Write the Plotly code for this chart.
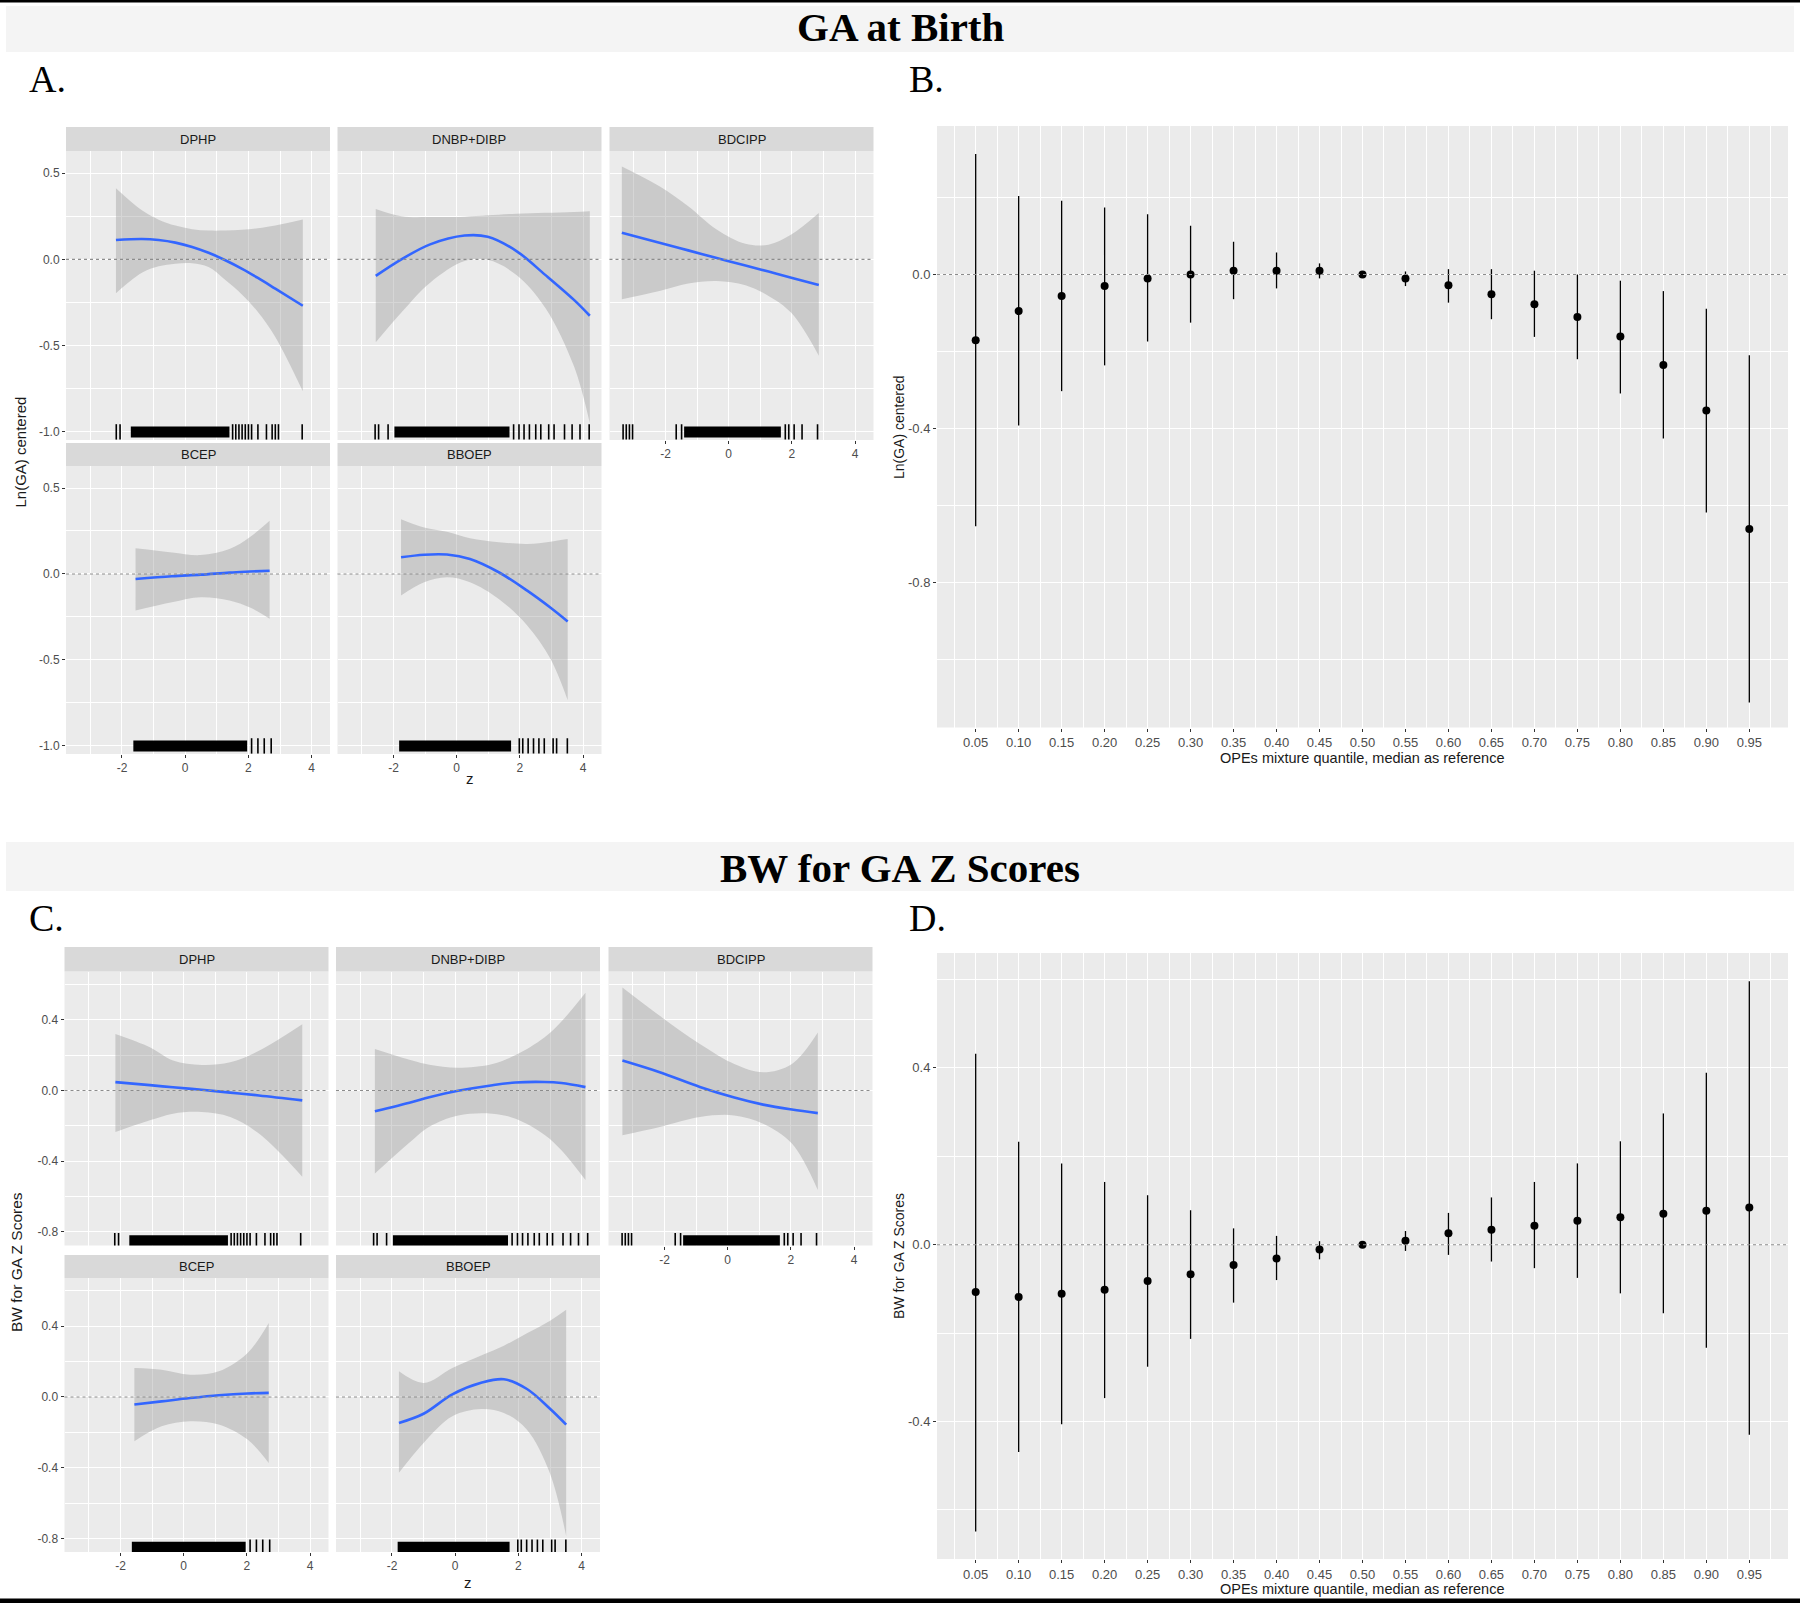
import plotly.graph_objects as go

W, H = 1800, 1607
SANS = "Liberation Sans, Arial, sans-serif"
SERIF = "Liberation Serif, Times New Roman, serif"

# ------------------------------------------------------------------ data
FACETS = ["DPHP", "DNBP+DIBP", "BDCIPP", "BCEP", "BBOEP"]

# Panel A : Ln(GA) centered vs z (smooth fit with 95% band)
A_DPHP_z   = [-2.19, -1.37, -0.84, -0.31, 0.22, 0.74, 1.27, 1.80, 2.30, 2.85, 3.72]
A_DPHP_fit = [0.112, 0.118, 0.112, 0.097, 0.072, 0.038, -0.005, -0.055, -0.108, -0.170, -0.269]
A_DPHP_lo  = [-0.196, -0.078, -0.040, -0.025, -0.022, -0.045, -0.120, -0.205, -0.305, -0.450, -0.765]
A_DPHP_hi  = [0.412, 0.284, 0.230, 0.196, 0.175, 0.167, 0.167, 0.171, 0.180, 0.196, 0.231]

A_DNBP_z   = [-2.56, -1.75, -0.84, 0.25, 0.98, 1.89, 2.80, 3.71, 4.21]
A_DNBP_fit = [-0.096, 0.000, 0.087, 0.138, 0.131, 0.048, -0.090, -0.235, -0.327]
A_DNBP_lo  = [-0.481, -0.308, -0.135, -0.010, -0.003, -0.090, -0.280, -0.620, -0.950]
A_DNBP_hi  = [0.292, 0.250, 0.245, 0.247, 0.255, 0.265, 0.270, 0.275, 0.279]

A_BDCIPP_z   = [-3.38, -2.19, -1.28, -0.38, 0.53, 1.26, 1.98, 2.85]
A_BDCIPP_fit = [0.154, 0.096, 0.052, 0.008, -0.036, -0.071, -0.106, -0.148]
A_BDCIPP_lo  = [-0.231, -0.183, -0.140, -0.125, -0.150, -0.212, -0.310, -0.558]
A_BDCIPP_hi  = [0.538, 0.423, 0.308, 0.173, 0.090, 0.085, 0.144, 0.269]

A_BCEP_z   = [-1.57, -0.42, 0.49, 1.40, 2.05, 2.67]
A_BCEP_fit = [-0.029, -0.013, -0.004, 0.008, 0.014, 0.019]
A_BCEP_lo  = [-0.212, -0.164, -0.135, -0.154, -0.195, -0.260]
A_BCEP_hi  = [0.149, 0.125, 0.110, 0.145, 0.215, 0.309]

A_BBOEP_z   = [-1.76, -1.03, -0.31, 0.42, 1.33, 2.23, 2.96, 3.51]
A_BBOEP_fit = [0.097, 0.112, 0.113, 0.087, 0.010, -0.097, -0.195, -0.276]
A_BBOEP_lo  = [-0.125, -0.048, -0.019, -0.048, -0.145, -0.299, -0.492, -0.734]
A_BBOEP_hi  = [0.319, 0.270, 0.245, 0.208, 0.185, 0.175, 0.188, 0.203]

# Panel C : BW for GA Z Scores vs z
C_DPHP_z   = [-2.16, -1.07, -0.34, 0.57, 1.47, 2.38, 3.75]
C_DPHP_fit = [0.047, 0.030, 0.018, 0.004, -0.012, -0.028, -0.056]
C_DPHP_lo  = [-0.235, -0.169, -0.131, -0.122, -0.150, -0.244, -0.488]
C_DPHP_hi  = [0.319, 0.244, 0.169, 0.144, 0.159, 0.225, 0.375]

C_DNBP_z   = [-2.54, -1.36, -0.82, 0.09, 1.18, 1.91, 2.82, 3.36, 4.12]
C_DNBP_fit = [-0.118, -0.065, -0.038, -0.002, 0.030, 0.045, 0.048, 0.042, 0.019]
C_DNBP_lo  = [-0.469, -0.281, -0.205, -0.141, -0.131, -0.160, -0.250, -0.338, -0.507]
C_DNBP_hi  = [0.235, 0.169, 0.145, 0.128, 0.150, 0.200, 0.300, 0.390, 0.553]

C_BDCIPP_z   = [-3.33, -2.15, -0.88, 0.21, 1.12, 2.03, 2.85]
C_BDCIPP_fit = [0.169, 0.103, 0.020, -0.040, -0.080, -0.108, -0.128]
C_BDCIPP_lo  = [-0.253, -0.206, -0.150, -0.141, -0.188, -0.300, -0.563]
C_BDCIPP_hi  = [0.582, 0.422, 0.263, 0.150, 0.103, 0.150, 0.328]

C_BCEP_z   = [-1.56, -0.70, 0.20, 1.11, 2.02, 2.69]
C_BCEP_fit = [-0.043, -0.025, -0.006, 0.010, 0.020, 0.023]
C_BCEP_lo  = [-0.250, -0.166, -0.137, -0.156, -0.241, -0.373]
C_BCEP_hi  = [0.164, 0.154, 0.126, 0.145, 0.249, 0.418]

C_BBOEP_z   = [-1.78, -1.00, -0.09, 0.82, 1.54, 2.27, 2.99, 3.51]
C_BBOEP_fit = [-0.147, -0.095, 0.015, 0.080, 0.100, 0.045, -0.065, -0.156]
C_BBOEP_lo  = [-0.429, -0.260, -0.109, -0.068, -0.090, -0.185, -0.429, -0.787]
C_BBOEP_hi  = [0.145, 0.079, 0.164, 0.235, 0.290, 0.360, 0.430, 0.493]

# Rug of exposure z-scores (solid stretches and single ticks)
RUG_DPHP_dense   = [(-1.72, 1.40)]
RUG_DPHP_ticks   = [-2.18, -2.06, 1.50, 1.60, 1.70, 1.80, 1.90, 2.00, 2.10, 2.30, 2.57, 2.75, 2.85, 2.95, 3.70]
RUG_DNBP_dense   = [(-1.97, 1.67)]
RUG_DNBP_ticks   = [-2.58, -2.47, -2.17, 1.80, 1.97, 2.13, 2.30, 2.50, 2.66, 2.91, 3.08, 3.41, 3.65, 3.90, 4.19]
RUG_BDCIPP_dense = [(-1.41, 1.65)]
RUG_BDCIPP_ticks = [-3.34, -3.24, -3.14, -3.04, -1.66, -1.49, 1.79, 1.90, 2.07, 2.32, 2.81]
RUG_BCEP_dense   = [(-1.64, 1.96)]
RUG_BCEP_ticks   = [2.10, 2.30, 2.50, 2.72]
RUG_BBOEP_dense  = [(-1.82, 1.72)]
RUG_BBOEP_ticks  = [1.98, 2.09, 2.26, 2.43, 2.60, 2.77, 3.05, 3.16, 3.50]
RUG_Y_A = -1.0
RUG_Y_C = -0.85

# Panels B and D : mixture quantile effects
QUANTILES    = [0.05, 0.10, 0.15, 0.20, 0.25, 0.30, 0.35, 0.40, 0.45, 0.50,
                0.55, 0.60, 0.65, 0.70, 0.75, 0.80, 0.85, 0.90, 0.95]
QUANT_LABELS = ["0.05", "0.10", "0.15", "0.20", "0.25", "0.30", "0.35", "0.40", "0.45", "0.50",
                "0.55", "0.60", "0.65", "0.70", "0.75", "0.80", "0.85", "0.90", "0.95"]
B_est = [-0.171, -0.095, -0.056, -0.030, -0.010, 0.000, 0.010, 0.010, 0.010, 0.000,
         -0.010, -0.028, -0.051, -0.077, -0.110, -0.161, -0.235, -0.353, -0.661]
B_lo  = [-0.654, -0.392, -0.303, -0.236, -0.174, -0.125, -0.064, -0.036, -0.010, 0.000,
         -0.030, -0.073, -0.116, -0.162, -0.220, -0.309, -0.426, -0.618, -1.112]
B_hi  = [0.313, 0.204, 0.192, 0.174, 0.157, 0.127, 0.085, 0.057, 0.029, 0.000,
         0.008, 0.014, 0.014, 0.010, 0.000, -0.016, -0.043, -0.089, -0.210]
D_est = [-0.107, -0.118, -0.111, -0.102, -0.082, -0.067, -0.046, -0.031, -0.011, 0.000,
         0.009, 0.026, 0.034, 0.043, 0.054, 0.062, 0.070, 0.077, 0.084]
D_lo  = [-0.649, -0.469, -0.406, -0.347, -0.276, -0.213, -0.131, -0.080, -0.033, 0.000,
         -0.014, -0.023, -0.038, -0.053, -0.075, -0.110, -0.155, -0.233, -0.430]
D_hi  = [0.432, 0.233, 0.184, 0.142, 0.112, 0.078, 0.037, 0.020, 0.008, 0.000,
         0.031, 0.072, 0.107, 0.142, 0.184, 0.234, 0.297, 0.389, 0.596]

# ------------------------------------------------------------------ figure
fig = go.Figure()
axes_layout = {}
shapes = []
annotations = []
n_axes = [0]


def new_axes(xpx, ypx, xcfg, ycfg):
    n_axes[0] += 1
    s = "" if n_axes[0] == 1 else str(n_axes[0])
    axes_layout["xaxis" + s] = dict(domain=[xpx[0] / W, xpx[1] / W], anchor="y" + s, **xcfg)
    axes_layout["yaxis" + s] = dict(domain=[1 - ypx[1] / H, 1 - ypx[0] / H], anchor="x" + s, **ycfg)
    return "x" + s, "y" + s


def axis_style(rng, tickvals, ticktext, minorvals, show_labels, tick_size):
    d = dict(range=rng, tickmode="array", tickvals=tickvals, ticktext=ticktext,
             showgrid=True, gridcolor="white", gridwidth=1.3, zeroline=False, showline=False,
             minor=dict(tickmode="array", tickvals=minorvals, showgrid=True,
                        gridcolor="white", gridwidth=0.6, ticks=""),
             fixedrange=True, tickfont=dict(family=SANS, size=tick_size, color="#4D4D4D"))
    if show_labels:
        d.update(ticks="outside", ticklen=3, tickwidth=1, tickcolor="#333333", showticklabels=True)
    else:
        d.update(ticks="", showticklabels=False)
    return d


def paper_rect(x0, y0, x1, y1, color):
    shapes.append(dict(type="rect", xref="paper", yref="paper", x0=x0 / W, x1=x1 / W,
                       y0=1 - y1 / H, y1=1 - y0 / H, fillcolor=color, line=dict(width=0),
                       layer="below"))


def text(t, x, y, size, family=SANS, color="#1A1A1A", angle=0, xanchor="center"):
    annotations.append(dict(text=t, x=x / W, y=1 - y / H, xref="paper", yref="paper",
                            showarrow=False, font=dict(family=family, size=size, color=color),
                            textangle=angle, xanchor=xanchor, yanchor="middle"))


def zero_line(xa, ya):
    shapes.append(dict(type="line", xref=xa + " domain", x0=0, x1=1, yref=ya, y0=0, y1=0,
                       line=dict(color="#8C8C8C", width=1.1, dash="dot"), layer="above"))


XR = [-3.77, 4.58]


def facet_block(data, cols, rows, yrng, yvals, ytext, yminor, rug_y):
    positions = [(0, 0), (0, 1), (0, 2), (1, 0), (1, 1)]
    with_x_labels = {(1, 0), (1, 1), (0, 2)}
    for (name, z, fit, lo, hi, dense, ticks), (r, c) in zip(data, positions):
        xpx = cols[c]
        strip, panel = rows[r]
        xa, ya = new_axes(
            xpx, panel,
            axis_style(XR, [-2, 0, 2, 4], ["-2", "0", "2", "4"], [-3, -1, 1, 3],
                       (r, c) in with_x_labels, 12),
            axis_style(yrng, yvals, ytext, yminor, c == 0, 12))
        paper_rect(xpx[0], strip[0], xpx[1], strip[1], "#D9D9D9")
        text(name, (xpx[0] + xpx[1]) / 2, (strip[0] + strip[1]) / 2, 13)
        zero_line(xa, ya)
        fig.add_trace(go.Scatter(x=z, y=hi, xaxis=xa, yaxis=ya, mode="lines",
                                 line=dict(width=0, shape="spline"), hoverinfo="skip"))
        fig.add_trace(go.Scatter(x=z, y=lo, xaxis=xa, yaxis=ya, mode="lines",
                                 line=dict(width=0, shape="spline"), fill="tonexty",
                                 fillcolor="rgba(153,153,153,0.4)", hoverinfo="skip"))
        fig.add_trace(go.Scatter(x=z, y=fit, xaxis=xa, yaxis=ya, mode="lines",
                                 line=dict(color="#3366FF", width=2.6, shape="spline")))
        xs, ys = [], []
        for a, b in dense:
            xs += [a, b, None]
            ys += [rug_y, rug_y, None]
        fig.add_trace(go.Scatter(x=xs, y=ys, xaxis=xa, yaxis=ya, mode="lines",
                                 line=dict(color="black", width=11), hoverinfo="skip"))
        fig.add_trace(go.Scatter(x=ticks, y=[rug_y] * len(ticks), xaxis=xa, yaxis=ya,
                                 mode="markers", hoverinfo="skip",
                                 marker=dict(symbol="line-ns", size=11,
                                             line=dict(width=1.6, color="black"))))


def quantile_panel(xpx, ypx, yrng, yvals, ytext, yminor, est, lo, hi):
    q_minor = [q - 0.025 for q in QUANTILES] + [QUANTILES[-1] + 0.025]
    xa, ya = new_axes(xpx, ypx,
                      axis_style([0.005, 0.995], QUANTILES, QUANT_LABELS, q_minor, True, 13),
                      axis_style(yrng, yvals, ytext, yminor, True, 13))
    zero_line(xa, ya)
    fig.add_trace(go.Scatter(
        x=QUANTILES, y=est, xaxis=xa, yaxis=ya, mode="markers",
        marker=dict(color="black", size=8),
        error_y=dict(type="data", symmetric=False,
                     array=[h - e for h, e in zip(hi, est)],
                     arrayminus=[e - l for e, l in zip(est, lo)],
                     width=0, thickness=1.3, color="black")))


# header bands, rules
shapes.append(dict(type="rect", xref="paper", yref="paper", x0=0, x1=1,
                   y0=1 - 2.5 / H, y1=1, fillcolor="black", line=dict(width=0)))
shapes.append(dict(type="rect", xref="paper", yref="paper", x0=0, x1=1,
                   y0=1 - 1603 / H, y1=1 - 1598.5 / H, fillcolor="black", line=dict(width=0)))
paper_rect(6, 6, 1794, 52, "#F4F4F4")
paper_rect(6, 842, 1794, 891, "#F4F4F4")
text("<b>GA at Birth</b>", 900, 27, 41, family=SERIF, color="black")
text("<b>BW for GA Z Scores</b>", 900, 868, 41, family=SERIF, color="black")
text("A.", 27, 79, 38, family=SERIF, color="black", xanchor="left")
text("B.", 907, 79, 38, family=SERIF, color="black", xanchor="left")
text("C.", 27, 918, 38, family=SERIF, color="black", xanchor="left")
text("D.", 907, 918, 38, family=SERIF, color="black", xanchor="left")

# Panel A
A_data = [
    ("DPHP", A_DPHP_z, A_DPHP_fit, A_DPHP_lo, A_DPHP_hi, RUG_DPHP_dense, RUG_DPHP_ticks),
    ("DNBP+DIBP", A_DNBP_z, A_DNBP_fit, A_DNBP_lo, A_DNBP_hi, RUG_DNBP_dense, RUG_DNBP_ticks),
    ("BDCIPP", A_BDCIPP_z, A_BDCIPP_fit, A_BDCIPP_lo, A_BDCIPP_hi, RUG_BDCIPP_dense, RUG_BDCIPP_ticks),
    ("BCEP", A_BCEP_z, A_BCEP_fit, A_BCEP_lo, A_BCEP_hi, RUG_BCEP_dense, RUG_BCEP_ticks),
    ("BBOEP", A_BBOEP_z, A_BBOEP_fit, A_BBOEP_lo, A_BBOEP_hi, RUG_BBOEP_dense, RUG_BBOEP_ticks),
]
facet_block(A_data,
            cols=[(66, 330), (337.5, 601.5), (609.5, 873.5)],
            rows=[((127, 151), (151, 440)), ((443, 466), (466, 754))],
            yrng=[-1.047, 0.628], yvals=[-1, -0.5, 0, 0.5],
            ytext=["-1.0", "-0.5", "0.0", "0.5"], yminor=[-0.75, -0.25, 0.25],
            rug_y=RUG_Y_A)

# Panel C
C_data = [
    ("DPHP", C_DPHP_z, C_DPHP_fit, C_DPHP_lo, C_DPHP_hi, RUG_DPHP_dense, RUG_DPHP_ticks),
    ("DNBP+DIBP", C_DNBP_z, C_DNBP_fit, C_DNBP_lo, C_DNBP_hi, RUG_DNBP_dense, RUG_DNBP_ticks),
    ("BDCIPP", C_BDCIPP_z, C_BDCIPP_fit, C_BDCIPP_lo, C_BDCIPP_hi, RUG_BDCIPP_dense, RUG_BDCIPP_ticks),
    ("BCEP", C_BCEP_z, C_BCEP_fit, C_BCEP_lo, C_BCEP_hi, RUG_BCEP_dense, RUG_BCEP_ticks),
    ("BBOEP", C_BBOEP_z, C_BBOEP_fit, C_BBOEP_lo, C_BBOEP_hi, RUG_BBOEP_dense, RUG_BBOEP_ticks),
]
facet_block(C_data,
            cols=[(64.5, 328.5), (336, 600), (608.5, 872.5)],
            rows=[((947, 971.5), (971.5, 1245.5)), ((1255, 1278), (1278, 1552))],
            yrng=[-0.877, 0.673], yvals=[-0.8, -0.4, 0, 0.4],
            ytext=["-0.8", "-0.4", "0.0", "0.4"], yminor=[-0.6, -0.2, 0.2, 0.6],
            rug_y=RUG_Y_C)

# Panels B and D
quantile_panel((937, 1788), (126, 727.5), [-1.177, 0.386], [-0.8, -0.4, 0.0],
               ["-0.8", "-0.4", "0.0"], [-1.0, -0.6, -0.2, 0.2], B_est, B_lo, B_hi)
quantile_panel((937, 1788), (953, 1559), [-0.711, 0.66], [-0.4, 0.0, 0.4],
               ["-0.4", "0.0", "0.4"], [-0.6, -0.2, 0.2, 0.6], D_est, D_lo, D_hi)

# axis titles
text("Ln(GA) centered", 19.5, 452, 15, angle=-90)
text("z", 470, 778, 15)
text("Ln(GA) centered", 899, 427, 14, angle=-90)
text("OPEs mixture quantile, median as reference", 1362.5, 757.5, 14.5)
text("BW for GA Z Scores", 16, 1262, 15.5, angle=-90)
text("z", 468, 1582, 15)
text("BW for GA Z Scores", 899, 1256, 14, angle=-90)
text("OPEs mixture quantile, median as reference", 1362.5, 1589, 14.5)

fig.update_layout(
    width=W, height=H, margin=dict(l=0, r=0, t=0, b=0, pad=0),
    paper_bgcolor="white", plot_bgcolor="#EBEBEB", showlegend=False,
    shapes=shapes, annotations=annotations, **axes_layout)

fig.write_html("out.html", config={"displayModeBar": False},
               post_script="document.body.style.margin='0px';document.body.style.overflow='hidden';")
